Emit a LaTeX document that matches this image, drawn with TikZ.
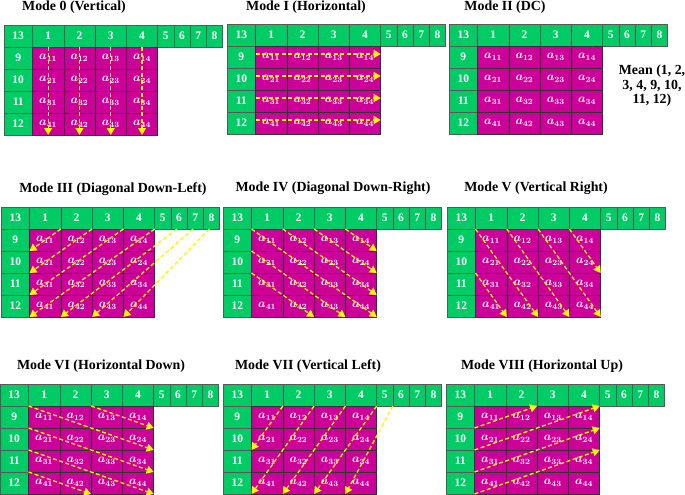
\documentclass[tikz,border=0pt]{standalone}
\usepackage{fontspec}
\setmainfont{Liberation Serif}
\usetikzlibrary{arrows.meta}
\definecolor{cellgreen}{RGB}{0,204,102}
\definecolor{cellmagenta}{RGB}{204,0,153}
\definecolor{predyellow}{RGB}{255,245,0}
\tikzset{
  numcell/.style={draw=black!65, line width=0.6pt, fill=cellgreen, text=white,
    font=\fontsize{11.5}{13}\selectfont\bfseries, minimum height=22pt, inner sep=0pt, outer sep=0pt},
  matcell/.style={draw=black!80, line width=0.6pt, fill=cellmagenta, text=white,
    font=\fontsize{12}{14}\selectfont\boldmath, minimum width=31.3pt, minimum height=22pt, inner sep=0pt, outer sep=0pt},
  modetitle/.style={font=\fontsize{13.9}{14.5}\selectfont\bfseries, inner sep=0pt},
  pred/.style={draw=predyellow, line width=1.3pt, dash pattern=on 4pt off 2.5pt,
    -{Triangle[width=8pt,length=7pt]}}
}
\newcommand{\modegrid}[3]{%
  \begin{scope}[shift={(#2,#3)}]
    \node[numcell, minimum width=28.5pt] (#1-t13) at (14.25,11) {13};
    \foreach \c in {1,...,4}
      \node[numcell, minimum width=31.3pt] (#1-t\c) at ({44.15+31.3*(\c-1)},11) {\c};
    \foreach \c in {5,...,8}
      \node[numcell, minimum width=16.2pt] (#1-t\c) at ({161.8+16.2*(\c-5)},11) {\c};
    \foreach \r [evaluate=\r as \lab using int(\r+8)] in {1,...,4}{
      \node[numcell, minimum width=28.5pt] (#1-l\lab) at (14.25,{11+22*\r}) {\lab};
      \foreach \c in {1,...,4}
        \node[matcell] (#1-a\r\c) at ({44.15+31.3*(\c-1)},{11+22*\r}) {$a_{\r\c}$};
    }
  \end{scope}}
\begin{document}
\begin{tikzpicture}[x=1pt,y=-1pt]
\useasboundingbox (0,0) rectangle (685,495);
\modegrid{m0}{4}{25}
\modegrid{m1}{227}{24}
\modegrid{m2}{449}{24}
\modegrid{m3}{1}{207}
\modegrid{m4}{223}{207}
\modegrid{m5}{447}{207}
\modegrid{m6}{0}{384}
\modegrid{m7}{223}{384}
\modegrid{m8}{446}{384}
\node[modetitle] (title0) at (74,7) {Mode 0 (Vertical)};
\node[modetitle] (title1) at (306,7) {Mode I (Horizontal)};
\node[modetitle] (title2) at (505,7) {Mode II (DC)};
\node[modetitle] (title3) at (113,189) {Mode III (Diagonal Down-Left)};
\node[modetitle] (title4) at (333,188) {Mode IV (Diagonal Down-Right)};
\node[modetitle] (title5) at (536,188) {Mode V (Vertical Right)};
\node[modetitle] (title6) at (101,366) {Mode VI (Horizontal Down)};
\node[modetitle] (title7) at (308,366) {Mode VII (Vertical Left)};
\node[modetitle] (title8) at (542,366) {Mode VIII (Horizontal Up)};
\node[modetitle, align=center] (mean) at (652,86) {Mean (1, 2,\\3, 4, 9, 10,\\11, 12)};
\foreach \c in {1,...,4}
  \draw[pred] (m0-t\c.south) -- (m0-a4\c.south);
\foreach \r [evaluate=\r as \lab using int(\r+8)] in {1,...,4}
  \draw[pred] ([yshift=3pt]m1-l\lab.east) -- ([yshift=3pt]m1-a\r4.east);
\foreach \c in {1,...,4}
  \draw[pred] (m3-t\c.south east) -- (m3-a\c1.south west);
\foreach \c [evaluate=\c as \k using int(\c+4)] in {2,3,4}
  \draw[pred] ([xshift=-2pt]m3-t\k.south) -- (m3-a4\c.south west);
\foreach \s/\e in {11/44,12/34,13/24,14/14,21/43,31/42}
  \draw[pred] (m4-a\s.north west) -- (m4-a\e.south east);
\foreach \s/\e in {11/42,12/43,13/44,14/24,31/41}
  \draw[pred] (m5-a\s.north west) -- (m5-a\e.south east);
\foreach \s/\e in {11/24,13/14,21/34,31/44,41/42}
  \draw[pred] (m6-a\s.north west) -- (m6-a\e.south east);
\foreach \s/\e in {1/21,2/41,3/42,4/43,5/44}
  \draw[pred] (m7-t\s.south east) -- (m7-a\e.south west);
\foreach \s/\e in {11/12,21/14,31/24,41/34}
  \draw[pred] (m8-a\s.south west) -- (m8-a\e.north east);
\end{tikzpicture}
\end{document}
